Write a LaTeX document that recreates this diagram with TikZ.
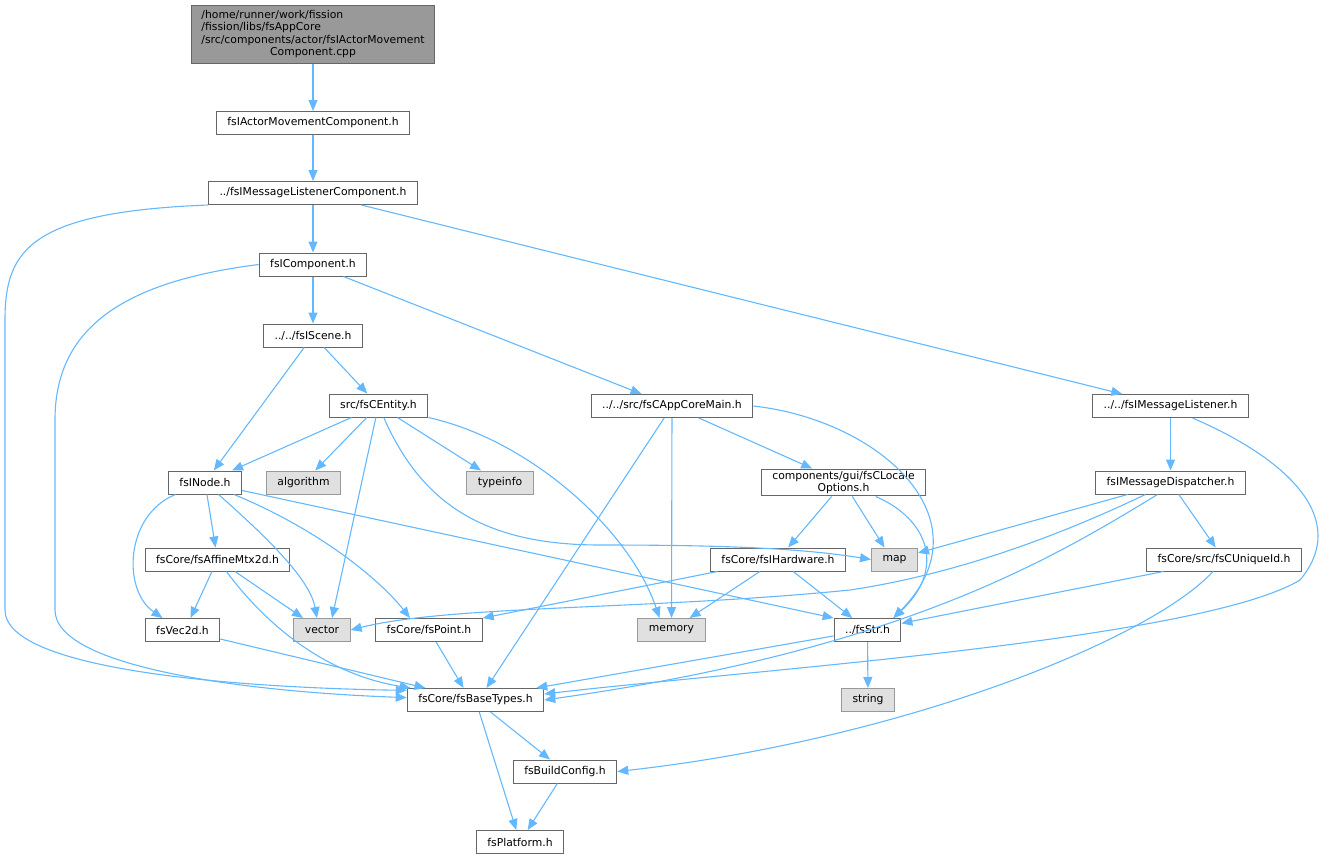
\documentclass[tikz,border=0pt]{standalone}
\usepackage{fontspec}
\setmainfont{DejaVu Sans}
\usepackage{xcolor}
\usetikzlibrary{arrows.meta}

\definecolor{edgeblue}{HTML}{63B8FF}
\definecolor{boxline}{HTML}{666666}
\definecolor{sysline}{HTML}{999999}
\definecolor{sysfill}{HTML}{E0E0E0}
\definecolor{rootfill}{HTML}{999999}

\begin{document}
\begin{tikzpicture}[x=1pt,y=-1pt,
  file/.style={draw=boxline, line width=1pt, fill=white, inner xsep=11pt, inner ysep=2pt,
    minimum height=23pt, align=center, font=\fontsize{10.8}{12.5}\selectfont},
  sys/.style={file, draw=sysline, fill=sysfill},
  topfile/.style={file, fill=rootfill, inner xsep=10pt, inner ysep=4pt},
  dep/.style={draw=edgeblue, line width=1.1pt, -{Triangle[length=11pt,width=9pt]}}]

  \useasboundingbox (0,0) rectangle (1332,859);

  \node[topfile] (root) at (313,34.5) {\begin{tabular}{@{}l@{}}/home/runner/work/fission\\
    /fission/libs/fsAppCore\\/src/components/actor/fsIActorMovement\\
    \multicolumn{1}{@{}c@{}}{Component.cpp}\end{tabular}};
  \node[file] (actor) at (313,123) {fsIActorMovementComponent.h};
  \node[file] (mlc) at (313,193) {../fsIMessageListenerComponent.h};
  \node[file] (comp) at (313,264.5) {fsIComponent.h};
  \node[file] (scene) at (313,335.5) {../../fsIScene.h};
  \node[file] (entity) at (378.5,405.5) {src/fsCEntity.h};
  \node[file] (appmain) at (672,406) {../../src/fsCAppCoreMain.h};
  \node[file] (mlist) at (1170.5,406) {../../fsIMessageListener.h};
  \node[file] (inode) at (205,482.5) {fsINode.h};
  \node[sys] (algo) at (303.5,482.5) {algorithm};
  \node[sys] (typeinfo) at (500,482.5) {typeinfo};
  \node[file] (locale) at (843.5,482.5) {components/gui/fsCLocale\\Options.h};
  \node[file] (disp) at (1170.5,482.5) {fsIMessageDispatcher.h};
  \node[file] (affine) at (217.5,559.5) {fsCore/fsAffineMtx2d.h};
  \node[file] (hw) at (778,559.5) {fsCore/fsIHardware.h};
  \node[sys] (map) at (894.5,559.5) {map};
  \node[file] (unique) at (1224,559.5) {fsCore/src/fsCUniqueId.h};
  \node[file] (vec2d) at (182.5,630) {fsVec2d.h};
  \node[sys] (vector) at (322,630) {vector};
  \node[file] (point) at (429,630) {fsCore/fsPoint.h};
  \node[sys] (memory) at (671.5,630) {memory};
  \node[file] (str) at (867.5,630) {../fsStr.h};
  \node[file] (base) at (475.5,700) {fsCore/fsBaseTypes.h};
  \node[sys] (string) at (868,700) {string};
  \node[file] (build) at (565,771.5) {fsBuildConfig.h};
  \node[file] (platform) at (520,842) {fsPlatform.h};

  % top of the graph
  \draw[dep] (root) -- (actor);
  \draw[dep] (actor) -- (mlc);
  \draw[dep] (mlc) -- (comp);
  \draw[dep] (mlc) -- (mlist);
  \draw[dep] (mlc.south west) .. controls (30,212) and (5,250) .. (5,320) -- (5,610)
    .. controls (5,672) and (250,688) .. (base.172);
  \draw[dep] (comp.west) .. controls (120,282) and (55,330) .. (55,420) -- (55,610)
    .. controls (55,668) and (250,692) .. (base.178);
  \draw[dep] (comp) -- (scene);
  \draw[dep] (comp) -- (appmain);
  \draw[dep] (scene) -- (inode);
  \draw[dep] (scene) -- (entity);

  % src/fsCEntity.h
  \draw[dep] (entity) -- (inode);
  \draw[dep] (entity) -- (algo);
  \draw[dep] (entity) -- (typeinfo);
  \draw[dep] (entity) -- ([xshift=10pt]vector.north);
  \draw[dep] (entity) .. controls (420,500) and (480,545) .. (600,545)
    .. controls (720,545) and (800,548) .. (map.west);
  \draw[dep] (entity.south east) .. controls (530,440) and (630,530) .. ([xshift=-12pt]memory.north);

  % fsINode.h
  \draw[dep] (inode) .. controls (125,515) and (122,590) .. ([xshift=-20pt]vec2d.north);
  \draw[dep] (inode) -- (affine);
  \draw[dep] (inode) .. controls (270,540) and (310,580) .. ([xshift=-5pt]vector.north);
  \draw[dep] (inode) .. controls (320,530) and (380,580) .. ([xshift=-19pt]point.north);
  \draw[dep] (inode) -- (str.north west);

  \draw[dep] (affine) -- ([xshift=8pt]vec2d.north);
  \draw[dep] (affine) -- ([xshift=-19pt]vector.north);
  \draw[dep] (affine) .. controls (270,630) and (330,675) .. ([xshift=4pt]base.north west);
  \draw[dep] (vec2d) -- ([xshift=-50pt]base.north);
  \draw[dep] (point) -- ([xshift=-12pt]base.north);

  % ../../src/fsCAppCoreMain.h
  \draw[dep] (appmain) -- ([xshift=11pt]base.north);
  \draw[dep] (appmain) -- (memory);
  \draw[dep] (appmain) -- (locale);
  \draw[dep] (appmain.east) .. controls (880,420) and (990,520) .. ([xshift=-8pt]str.north east);
  \draw[dep] (locale) -- (hw);
  \draw[dep] (locale) -- ([xshift=-10pt]map.north);
  \draw[dep] (locale) .. controls (930,520) and (945,570) .. ([xshift=-8pt]str.north east);
  \draw[dep] (hw) -- (point.north east);
  \draw[dep] (hw) -- (memory);
  \draw[dep] (hw) -- (str);
  \draw[dep] (str) -- ([xshift=-8pt]base.north east);
  \draw[dep] (str) -- (string);

  % ../../fsIMessageListener.h
  \draw[dep] (mlist) -- (disp);
  \draw[dep] ([xshift=22pt]mlist.south) .. controls (1290,460) and (1350,520) .. (1300,580)
    .. controls (1200,640) and (750,670) .. (base.5);
  \draw[dep] (disp) -- (map);
  \draw[dep] (disp) .. controls (1050,540) and (950,575) .. (850,590)
    .. controls (650,610) and (450,605) .. (vector.east);
  \draw[dep] ([xshift=-13pt]disp.south) .. controls (1050,560) and (900,650) .. (base.east);
  \draw[dep] (disp) -- (unique);
  \draw[dep] (unique) -- (str);
  \draw[dep] (unique) .. controls (1150,640) and (900,740) .. (build.east);

  % bottom
  \draw[dep] (base) -- (build);
  \draw[dep] (base) -- (platform);
  \draw[dep] (build) -- (platform);

\end{tikzpicture}
\end{document}
